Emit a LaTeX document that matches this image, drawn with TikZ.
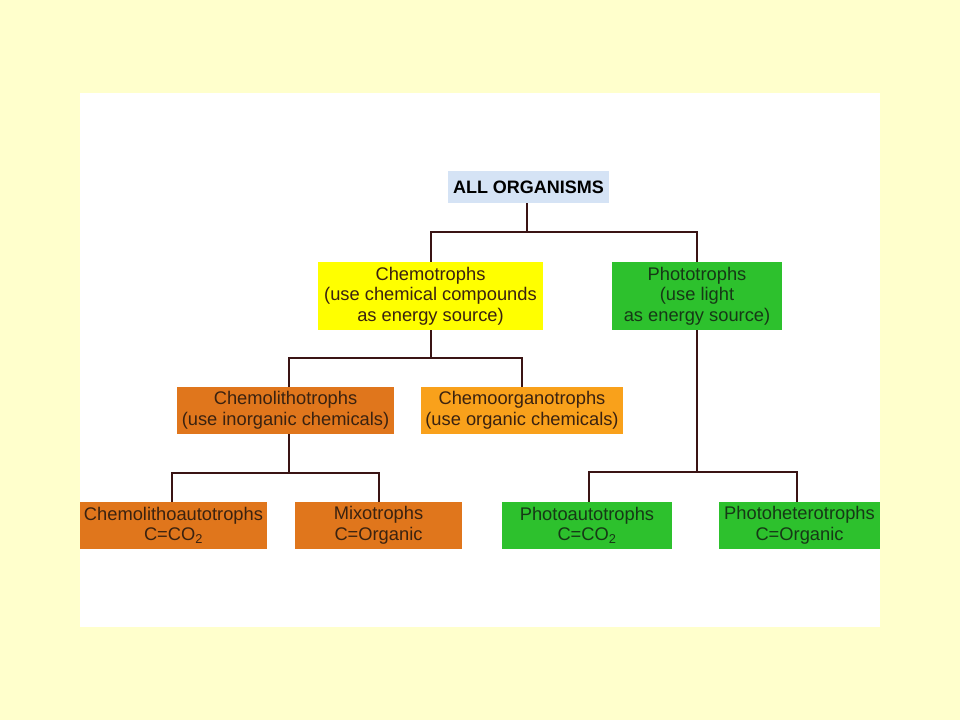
\documentclass[tikz,border=0pt]{standalone}
\usepackage{fontspec}
\setmainfont{Liberation Sans}
\definecolor{bgyellow}{HTML}{FFFFCC}
\definecolor{allblue}{HTML}{D5E3F5}
\definecolor{chemoyellow}{HTML}{FFFF00}
\definecolor{photogreen}{HTML}{2DC12D}
\definecolor{darkorange}{HTML}{E0761C}
\definecolor{lightorange}{HTML}{F9A11B}
\definecolor{linebrown}{HTML}{3A1414}
\definecolor{txtbrown}{HTML}{3A2210}
\definecolor{txtgreen}{HTML}{163816}
\begin{document}
\begin{tikzpicture}[x=1pt,y=-1pt,
  box/.style={rectangle,inner sep=0pt,align=center,text=txtbrown,
    font=\fontsize{18.3}{20.5}\selectfont},
  conn/.style={draw=linebrown,line width=2pt}]
\useasboundingbox (0,0) rectangle (960,720);
\fill[bgyellow] (0,0) rectangle (960,720);
\fill[white] (80,93) rectangle (880,627);

\node[box,fill=allblue,minimum width=161,minimum height=32,font=\fontsize{18}{20.5}\selectfont\bfseries,text=black] (all) at (528.5,187) {ALL ORGANISMS};
\node[box,fill=chemoyellow,minimum width=225,minimum height=68] (chemo) at (430.5,296) {Chemotrophs\\(use chemical compounds\\as energy source)};
\node[box,fill=photogreen,minimum width=170,minimum height=68,text=txtgreen] (photo) at (697,296) {Phototrophs\\(use light\\as energy source)};
\node[box,fill=darkorange,minimum width=217,minimum height=47] (lith) at (285.5,410.5) {Chemolithotrophs\\(use inorganic chemicals)};
\node[box,fill=lightorange,minimum width=202,minimum height=47] (org) at (522,410.5) {Chemoorganotrophs\\(use organic chemicals)};
\node[box,fill=darkorange,minimum width=187,minimum height=47] (lithauto) at (173.5,525.5) {Chemolithoautotrophs\\C=CO\textsubscript{2}};
\node[box,fill=darkorange,minimum width=167,minimum height=47] (mixo) at (378.5,525.5) {Mixotrophs\\C=Organic};
\node[box,fill=photogreen,minimum width=170,minimum height=47,text=txtgreen] (pauto) at (587,525.5) {Photoautotrophs\\C=CO\textsubscript{2}};
\node[box,fill=photogreen,minimum width=161,minimum height=47,text=txtgreen] (phet) at (799.5,525.5) {Photoheterotrophs\\C=Organic};

\coordinate (j1) at (527,232);
\coordinate (j2) at (430.5,358);
\coordinate (j3) at (289,473);
\coordinate (j4) at (697,472);

\draw[conn] ([xshift=-1.5]all.south) -- (j1);
\draw[conn] (chemo.north) |- (j1) -| (photo.north);
\draw[conn] (chemo.south) -- (j2);
\draw[conn] ([xshift=3.5]lith.north) |- (j2) -| (org.north);
\draw[conn] ([xshift=3.5]lith.south) -- (j3);
\draw[conn] ([xshift=-1.5]lithauto.north) |- (j3) -| (mixo.north);
\draw[conn] (photo.south) -- (j4);
\draw[conn] ([xshift=2]pauto.north) |- (j4) -| ([xshift=-2.5]phet.north);
\end{tikzpicture}
\end{document}
